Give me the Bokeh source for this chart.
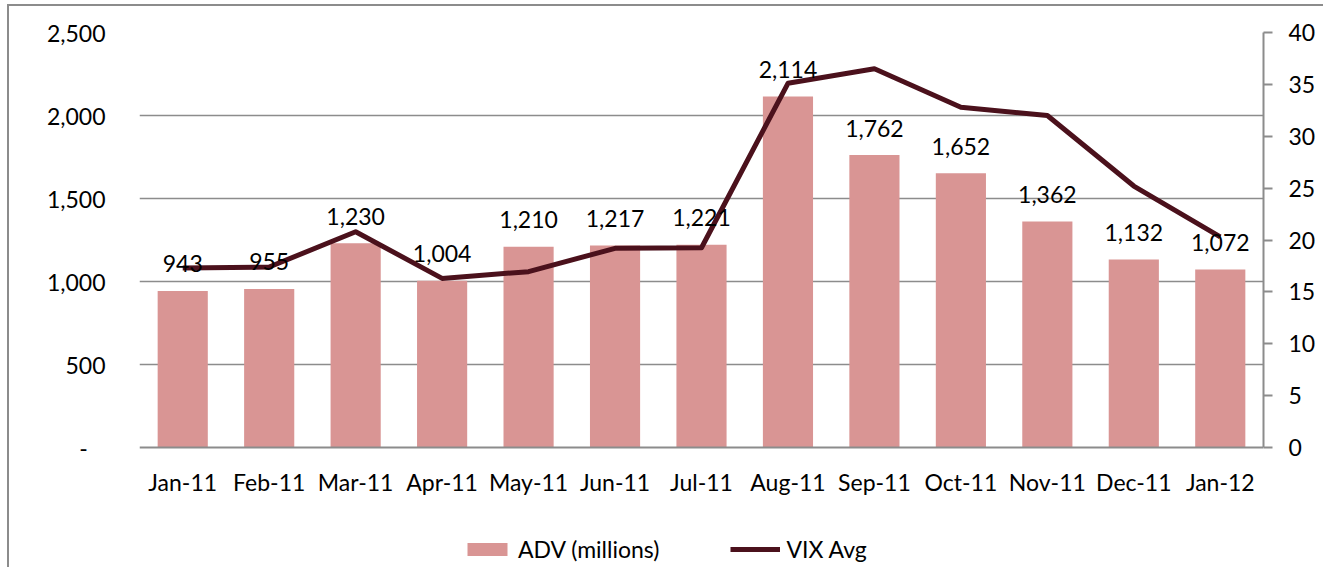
from bokeh.plotting import figure
from bokeh.models import (Range1d, LinearAxis, FactorRange, Legend, LegendItem,
                          FixedTicker, ColumnDataSource, NumeralTickFormatter)
from bokeh.core.properties import value
from bokeh.embed import file_html
from bokeh.resources import INLINE

months = ["Jan-11", "Feb-11", "Mar-11", "Apr-11", "May-11", "Jun-11", "Jul-11",
          "Aug-11", "Sep-11", "Oct-11", "Nov-11", "Dec-11", "Jan-12"]
adv = [943, 955, 1230, 1004, 1210, 1217, 1221, 2114, 1762, 1652, 1362, 1132, 1072]
vix = [17.3, 17.4, 20.8, 16.3, 16.95, 19.2, 19.25, 35.1, 36.5, 32.8, 32.0, 25.2, 20.3]
adv_labels = ["{:,}".format(v) for v in adv]

left_ticks = [0, 500, 1000, 1500, 2000, 2500]
right_ticks = [0, 5, 10, 15, 20, 25, 30, 35, 40]

FONT = "Lato"
FS = "23px"
BAR = "#d99594"
LINE = "#4b111c"
GRID = "#8c8c8c"

# frame layout: value area 415px tall, extra space below zero for axis labels + legend
AREA_PX = 415
BELOW_PX = 120
ADV_MAX, VIX_MAX = 2500, 40
adv_min = -ADV_MAX * BELOW_PX / AREA_PX
vix_min = -VIX_MAX * BELOW_PX / AREA_PX

src = ColumnDataSource(dict(m=months, adv=adv, vix=vix, lab=adv_labels))

p = figure(x_range=FactorRange(*months), y_range=Range1d(adv_min, ADV_MAX),
           frame_width=1124, frame_height=AREA_PX + BELOW_PX,
           min_border_left=130, min_border_top=26, min_border_right=60,
           min_border_bottom=0,
           output_backend="svg", toolbar_location=None)
p.outline_line_color = None
p.background_fill_color = "white"
p.border_fill_color = "white"
p.styles = {"border-top": "2px solid #8c8c8c", "border-left": "2px solid #8c8c8c",
            "margin-left": "7px", "margin-top": "4px"}

p.extra_y_ranges = {"vix": Range1d(vix_min, VIX_MAX)}

bars = p.vbar(x="m", top="adv", width=0.58, source=src, fill_color=BAR,
              line_color=None)
ln = p.line(x="m", y="vix", source=src, y_range_name="vix", line_color=LINE,
            line_width=5, line_join="round")
p.text(x="m", y="adv", text="lab", source=src, y_offset=-27,
       text_align="center", text_baseline="middle",
       text_font=value(FONT), text_font_size=FS, text_color="black")

# left axis
ya = p.yaxis[0]
ya.ticker = FixedTicker(ticks=left_ticks)
ya.formatter = NumeralTickFormatter(format="0,0")
ya.major_label_overrides = {0: "-\u00a0\u00a0\u00a0"}
ya.axis_line_color = None
ya.major_tick_line_color = None
ya.minor_tick_line_color = None
ya.major_label_standoff = 28
ya.major_label_text_font = FONT
ya.major_label_text_font_size = FS
ya.major_label_text_color = "black"

# right axis
ra = LinearAxis(y_range_name="vix", ticker=FixedTicker(ticks=right_ticks),
                bounds=(0, VIX_MAX))
ra.axis_line_color = GRID
ra.axis_line_width = 2
ra.major_tick_line_color = GRID
ra.major_tick_line_width = 2
ra.major_tick_out = 9
ra.major_tick_in = 0
ra.minor_tick_line_color = None
ra.major_label_standoff = 16
ra.major_label_text_font = FONT
ra.major_label_text_font_size = FS
ra.major_label_text_color = "black"
p.add_layout(ra, "right")

# x axis, drawn at zero inside the frame
xa = p.xaxis[0]
xa.fixed_location = 0
xa.axis_line_color = GRID
xa.axis_line_width = 2
xa.major_tick_line_color = None
xa.minor_tick_line_color = None
xa.major_label_standoff = 14
xa.major_label_text_font = FONT
xa.major_label_text_font_size = FS
xa.major_label_text_color = "black"

p.xgrid.grid_line_color = None
p.ygrid.grid_line_color = GRID
p.ygrid.grid_line_width = 1.5
p.ygrid.ticker = FixedTicker(ticks=[500, 1000, 1500, 2000, 2500])

legend = Legend(items=[LegendItem(label="ADV (millions)", renderers=[bars]),
                       LegendItem(label="VIX Avg", renderers=[ln])],
                orientation="horizontal", location=(323, 4),
                glyph_width=50, glyph_height=16, label_standoff=6,
                spacing=71, padding=0, margin=0,
                border_line_color=None, background_fill_alpha=0,
                label_text_font=FONT, label_text_font_size=FS,
                label_text_color="black")
p.add_layout(legend, "center")

open("out.html", "w").write(file_html(p, INLINE))
